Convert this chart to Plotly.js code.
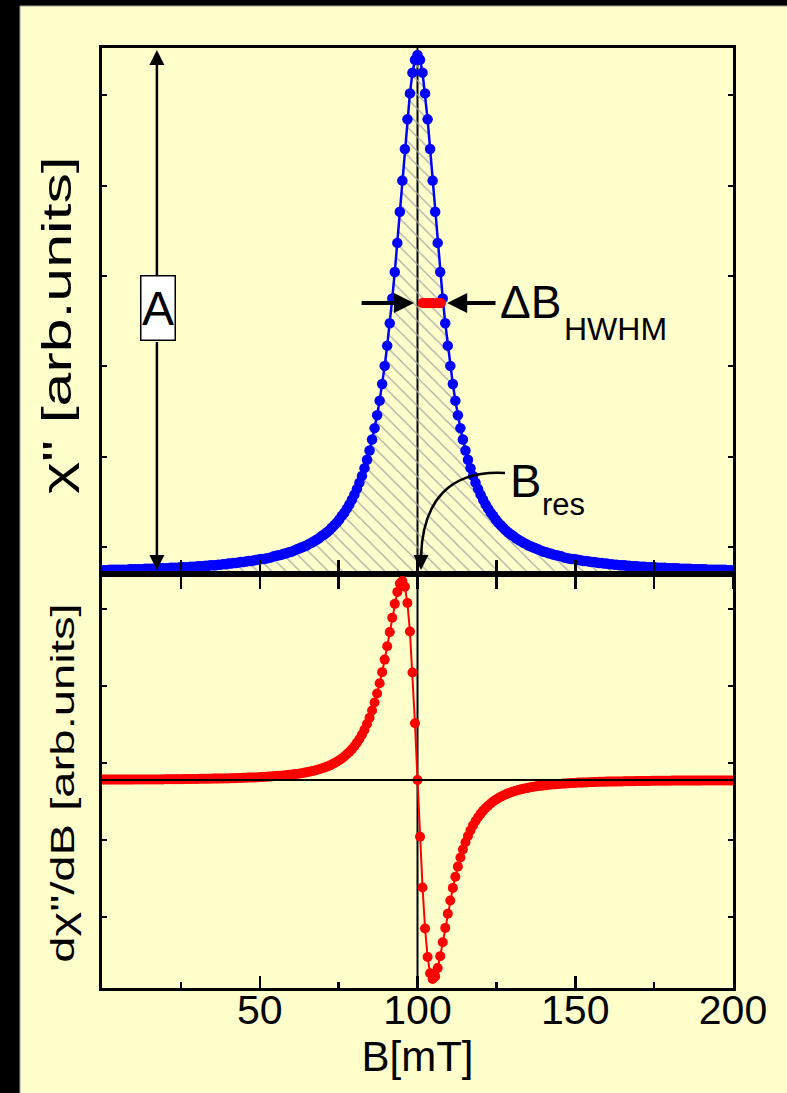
<!DOCTYPE html>
<html>
<head>
<meta charset="utf-8">
<script src="https://cdn.plot.ly/plotly-3.0.1.min.js"></script>
<style>html,body{margin:0;padding:0;background:#000;}#plot{width:787px;height:1093px;}</style>
</head>
<body>
<div id="plot"></div>
<script>
// Magnetic field B [mT]
const B = [
0,0.8,1.6,2.4,3.2,4,4.8,5.6,6.4,7.2,
8,8.8,9.6,10.4,11.2,12,12.8,13.6,14.4,15.2,
16,16.8,17.6,18.4,19.2,20,20.8,21.6,22.4,23.2,
24,24.8,25.6,26.4,27.2,28,28.8,29.6,30.4,31.2,
32,32.8,33.6,34.4,35.2,36,36.8,37.6,38.4,39.2,
40,40.8,41.6,42.4,43.2,44,44.8,45.6,46.4,47.2,
48,48.8,49.6,50.4,51.2,52,52.8,53.6,54.4,55.2,
56,56.8,57.6,58.4,59.2,60,60.8,61.6,62.4,63.2,
64,64.8,65.6,66.4,67.2,68,68.8,69.6,70.4,71.2,
72,72.8,73.6,74.4,75.2,76,76.8,77.6,78.4,79.2,
80,80.8,81.6,82.4,83.2,84,84.8,85.6,86.4,87.2,
88,88.8,89.6,90.4,91.2,92,92.8,93.6,94.4,95.2,
96,96.8,97.6,98.4,99.2,100,100.8,101.6,102.4,103.2,
104,104.8,105.6,106.4,107.2,108,108.8,109.6,110.4,111.2,
112,112.8,113.6,114.4,115.2,116,116.8,117.6,118.4,119.2,
120,120.8,121.6,122.4,123.2,124,124.8,125.6,126.4,127.2,
128,128.8,129.6,130.4,131.2,132,132.8,133.6,134.4,135.2,
136,136.8,137.6,138.4,139.2,140,140.8,141.6,142.4,143.2,
144,144.8,145.6,146.4,147.2,148,148.8,149.6,150.4,151.2,
152,152.8,153.6,154.4,155.2,156,156.8,157.6,158.4,159.2,
160,160.8,161.6,162.4,163.2,164,164.8,165.6,166.4,167.2,
168,168.8,169.6,170.4,171.2,172,172.8,173.6,174.4,175.2,
176,176.8,177.6,178.4,179.2,180,180.8,181.6,182.4,183.2,
184,184.8,185.6,186.4,187.2,188,188.8,189.6,190.4,191.2,
192,192.8,193.6,194.4,195.2,196,196.8,197.6,198.4,199.2,
200];

// Absorption chi'' (arb. units)
const chi = [
0.007,0.007,0.007,0.008,0.008,0.008,0.008,0.008,0.008,0.008,
0.008,0.009,0.009,0.009,0.009,0.009,0.009,0.010,0.010,0.010,
0.010,0.010,0.011,0.011,0.011,0.011,0.011,0.012,0.012,0.012,
0.012,0.013,0.013,0.013,0.013,0.014,0.014,0.014,0.015,0.015,
0.015,0.016,0.016,0.017,0.017,0.017,0.018,0.018,0.019,0.019,
0.020,0.020,0.021,0.021,0.022,0.023,0.023,0.024,0.025,0.025,
0.026,0.027,0.028,0.029,0.029,0.030,0.031,0.032,0.034,0.035,
0.036,0.037,0.039,0.040,0.042,0.043,0.045,0.047,0.049,0.051,
0.053,0.055,0.058,0.060,0.063,0.066,0.069,0.073,0.076,0.080,
0.084,0.089,0.094,0.099,0.105,0.112,0.118,0.126,0.134,0.143,
0.153,0.164,0.176,0.189,0.204,0.220,0.238,0.259,0.281,0.306,
0.334,0.366,0.401,0.440,0.483,0.531,0.582,0.638,0.698,0.758,
0.819,0.876,0.926,0.966,0.991,
1.000,
0.991,0.966,0.926,0.876,0.819,
0.758,0.698,0.638,0.582,0.531,0.483,0.440,0.401,0.366,0.334,
0.306,0.281,0.259,0.238,0.220,0.204,0.189,0.176,0.164,0.153,
0.143,0.134,0.126,0.118,0.112,0.105,0.099,0.094,0.089,0.084,
0.080,0.076,0.073,0.069,0.066,0.063,0.060,0.058,0.055,0.053,
0.051,0.049,0.047,0.045,0.043,0.042,0.040,0.039,0.037,0.036,
0.035,0.034,0.032,0.031,0.030,0.029,0.029,0.028,0.027,0.026,
0.025,0.025,0.024,0.023,0.023,0.022,0.021,0.021,0.020,0.020,
0.019,0.019,0.018,0.018,0.017,0.017,0.017,0.016,0.016,0.015,
0.015,0.015,0.014,0.014,0.014,0.013,0.013,0.013,0.013,0.012,
0.012,0.012,0.012,0.011,0.011,0.011,0.011,0.011,0.010,0.010,
0.010,0.010,0.010,0.009,0.009,0.009,0.009,0.009,0.009,0.008,
0.008,0.008,0.008,0.008,0.008,0.008,0.008,0.007,0.007,0.007];

// Derivative d chi''/dB (arb. units)
const dchi = [
0.002,0.002,0.002,0.002,0.002,0.002,0.002,0.002,0.002,0.002,
0.002,0.002,0.002,0.003,0.003,0.003,0.003,0.003,0.003,0.003,
0.003,0.003,0.003,0.003,0.003,0.004,0.004,0.004,0.004,0.004,
0.004,0.004,0.004,0.005,0.005,0.005,0.005,0.005,0.005,0.006,
0.006,0.006,0.006,0.006,0.007,0.007,0.007,0.008,0.008,0.008,
0.008,0.009,0.009,0.009,0.010,0.010,0.011,0.011,0.012,0.012,
0.013,0.013,0.014,0.015,0.015,0.016,0.017,0.018,0.019,0.020,
0.021,0.022,0.023,0.024,0.026,0.027,0.029,0.030,0.032,0.034,
0.036,0.039,0.041,0.044,0.047,0.050,0.054,0.058,0.062,0.067,
0.072,0.078,0.084,0.092,0.099,0.108,0.118,0.129,0.141,0.154,
0.170,0.187,0.206,0.228,0.253,0.281,0.313,0.349,0.389,0.435,
0.486,0.542,0.605,0.672,0.743,0.815,0.885,0.945,0.987,1.000,
0.971,0.889,0.746,0.540,0.285,
0,
-0.285,-0.540,-0.746,-0.889,-0.971,
-1.000,-0.987,-0.945,-0.885,-0.815,-0.743,-0.672,-0.605,-0.542,-0.486,
-0.435,-0.389,-0.349,-0.313,-0.281,-0.253,-0.228,-0.206,-0.187,-0.170,
-0.154,-0.141,-0.129,-0.118,-0.108,-0.099,-0.092,-0.084,-0.078,-0.072,
-0.067,-0.062,-0.058,-0.054,-0.050,-0.047,-0.044,-0.041,-0.039,-0.036,
-0.034,-0.032,-0.030,-0.029,-0.027,-0.026,-0.024,-0.023,-0.022,-0.021,
-0.020,-0.019,-0.018,-0.017,-0.016,-0.015,-0.015,-0.014,-0.013,-0.013,
-0.012,-0.012,-0.011,-0.011,-0.010,-0.010,-0.009,-0.009,-0.009,-0.008,
-0.008,-0.008,-0.008,-0.007,-0.007,-0.007,-0.006,-0.006,-0.006,-0.006,
-0.006,-0.005,-0.005,-0.005,-0.005,-0.005,-0.005,-0.004,-0.004,-0.004,
-0.004,-0.004,-0.004,-0.004,-0.004,-0.003,-0.003,-0.003,-0.003,-0.003,
-0.003,-0.003,-0.003,-0.003,-0.003,-0.003,-0.003,-0.002,-0.002,-0.002,
-0.002,-0.002,-0.002,-0.002,-0.002,-0.002,-0.002,-0.002,-0.002,-0.002];

// Tick labels / annotations
const xTickVals = [50, 100, 150, 200];
const xTickLabels = ['50', '100', '150', '200'];
const Bres = 100;
const hwhmBar = [101.6, 107.4];
const hwhmLevel = [0.522, 0.522];

const FONT = 'Liberation Sans, Arial, Helvetica, sans-serif';
const allQuarter = [25, 50, 75, 100, 125, 150, 175, 200];

const data = [
  {x: B, y: chi, xaxis: 'x', yaxis: 'y', type: 'scatter', mode: 'lines+markers',
   line: {color: '#0000FF', width: 2.5}, marker: {color: '#0000FF', size: 10.5},
   fill: 'tozeroy', fillcolor: 'rgba(0,0,0,0)',
   fillpattern: {shape: '\\', fgcolor: '#a8a8a8', bgcolor: 'rgba(0,0,0,0)', size: 10, solidity: 0.12},
   hoverinfo: 'skip'},
  {x: B, y: dchi, xaxis: 'x2', yaxis: 'y2', type: 'scatter', mode: 'lines+markers',
   line: {color: '#FF0000', width: 2}, marker: {color: '#FF0000', size: 10}, hoverinfo: 'skip'},
  {x: hwhmBar, y: hwhmLevel, xaxis: 'x', yaxis: 'y', type: 'scatter', mode: 'lines+markers',
   line: {color: '#FF0000', width: 10}, marker: {color: '#FF0000', size: 10}, hoverinfo: 'skip'},
  {x: [], y: [], xaxis: 'x3', yaxis: 'y', type: 'scatter', mode: 'markers', hoverinfo: 'skip'}
];

const DOM = 414 / 940;
const axLine = {showline: true, linecolor: 'black', linewidth: 3, showgrid: false, zeroline: false};

const layout = {
  width: 787, height: 1093,
  margin: {l: 102, r: 54, t: 48, b: 105, pad: 0},
  paper_bgcolor: '#000000', plot_bgcolor: 'rgba(0,0,0,0)',
  showlegend: false,
  font: {family: FONT, color: 'black'},
  xaxis: Object.assign({}, axLine, {domain: [0, 1], anchor: 'y', range: [0, 200],
    showticklabels: false, ticks: 'inside', tickmode: 'array', tickvals: allQuarter,
    ticklen: 14, tickwidth: 2.5, tickcolor: 'black', mirror: true}),
  xaxis3: {overlaying: 'x', anchor: 'y', range: [0, 200], showticklabels: false,
    ticks: 'outside', tickmode: 'array', tickvals: allQuarter, ticklen: 14, tickwidth: 2.5,
    tickcolor: 'black', showline: false, showgrid: false, zeroline: false},
  yaxis: Object.assign({}, axLine, {domain: [DOM, 1], anchor: 'x', range: [0, 1.0135],
    showticklabels: false, ticks: 'inside', tick0: 0.052, dtick: 0.174, ticklen: 5, tickwidth: 2,
    tickcolor: 'black', mirror: 'ticks',
    title: {text: 'χ" [arb.units]', font: {size: 40, family: FONT, color: 'black'}, standoff: 22}}),
  xaxis2: Object.assign({}, axLine, {domain: [0, 1], anchor: 'y2', range: [0, 200],
    tickmode: 'array', tickvals: xTickVals, ticktext: xTickLabels, ticks: 'inside',
    ticklen: 12, tickwidth: 2.5, tickcolor: 'black', mirror: true,
    minor: {tick0: 0, dtick: 25, ticks: 'inside', ticklen: 6, tickwidth: 2.5, tickcolor: 'black', showgrid: false},
    tickfont: {size: 41, family: FONT, color: 'black'}, ticklabelstandoff: -16,
    title: {text: 'B[mT]', font: {size: 42, family: FONT, color: 'black'}, standoff: 8}}),
  yaxis2: Object.assign({}, axLine, {domain: [0, DOM], anchor: 'x2', range: [-1.045, 1.035],
    showticklabels: false, ticks: 'inside', tick0: 0.085, dtick: 0.387, ticklen: 5, tickwidth: 2,
    tickcolor: 'black', mirror: 'ticks',
    title: {text: 'dχ"/dB [arb.units]', font: {size: 34, family: FONT, color: 'black'}, standoff: 22}}),
  shapes: [
    {type: 'rect', xref: 'paper', yref: 'paper', x0: -0.1300, x1: 1.10, y0: -0.13, y1: 1.0447,
     fillcolor: '#FFFFCC', line: {color: '#999999', width: 1}, layer: 'below'},
    {type: 'line', xref: 'x', yref: 'paper', x0: Bres, x1: Bres, y0: 0, y1: 1,
     line: {color: 'black', width: 2}, layer: 'below'},
    {type: 'line', xref: 'x2', yref: 'y2', x0: 0, x1: 200, y0: 0, y1: 0,
     line: {color: 'black', width: 2}, layer: 'above'},
    {type: 'path', xref: 'x', yref: 'y',
     path: 'M 127.73,0.1946 C 110.30,0.2004 101.74,0.1426 101.11,0.0347',
     line: {color: 'black', width: 2.5}, layer: 'above'}
  ],
  annotations: [
    // A double arrow
    {xref: 'x', yref: 'y', axref: 'x', ayref: 'y', x: 17.4, y: 1.0096, ax: 17.4, ay: 0.55, text: '',
     showarrow: true, arrowhead: 2, arrowsize: 1.2, arrowwidth: 2.5, arrowcolor: 'black'},
    {xref: 'x', yref: 'y', axref: 'x', ayref: 'y', x: 17.4, y: 0.0077, ax: 17.4, ay: 0.45, text: '',
     showarrow: true, arrowhead: 2, arrowsize: 1.2, arrowwidth: 2.5, arrowcolor: 'black'},
    {xref: 'x', yref: 'y', x: 17.6, y: 0.5116, text: 'A', showarrow: false,
     font: {size: 48, family: FONT, color: 'black'}, bgcolor: 'white', bordercolor: 'black',
     borderwidth: 1.5, borderpad: 0, width: 33, height: 63, xanchor: 'center', yanchor: 'middle'},
    // HWHM arrows
    {xref: 'x', yref: 'y', axref: 'x', ayref: 'y', x: 98.9, y: 0.522, ax: 81.8, ay: 0.522, text: '',
     showarrow: true, arrowhead: 2, arrowsize: 1, arrowwidth: 4, arrowcolor: 'black'},
    {xref: 'x', yref: 'y', axref: 'x', ayref: 'y', x: 109.4, y: 0.522, ax: 125.2, ay: 0.522, text: '',
     showarrow: true, arrowhead: 2, arrowsize: 1, arrowwidth: 4, arrowcolor: 'black'},
    {xref: 'x', yref: 'y', x: 125.6, y: 0.524, text: 'ΔB', showarrow: false, xanchor: 'left', yanchor: 'middle',
     font: {size: 46, family: FONT, color: 'black'}},
    {xref: 'x', yref: 'y', x: 145.8, y: 0.473, text: 'HWHM', showarrow: false, xanchor: 'left', yanchor: 'middle',
     font: {size: 32, family: FONT, color: 'black'}},
    // B_res
    {xref: 'x', yref: 'y', x: 128.7, y: 0.181, text: 'B', showarrow: false, xanchor: 'left', yanchor: 'middle',
     font: {size: 47, family: FONT, color: 'black'}},
    {xref: 'x', yref: 'y', x: 138.8, y: 0.133, text: 'res', showarrow: false, xanchor: 'left', yanchor: 'middle',
     font: {size: 31, family: FONT, color: 'black'}},
    {xref: 'x', yref: 'y', axref: 'x', ayref: 'y', x: 101.11, y: 0.0077, ax: 101.11, ay: 0.045, text: '',
     showarrow: true, arrowhead: 2, arrowsize: 1.2, arrowwidth: 2.5, arrowcolor: 'black'}
  ]
};

Plotly.newPlot('plot', data, layout, {staticPlot: true, displayModeBar: false}).then(function (gd) {
  function stretch(sel, s, dx, dy) {
    gd.querySelectorAll(sel).forEach(function (t) {
      const x = parseFloat(t.getAttribute('x')) || 0;
      const y = parseFloat(t.getAttribute('y')) || 0;
      const tr = t.getAttribute('transform') || '';
      t.setAttribute('transform', 'translate(' + dx + ',' + dy + ') ' + tr +
        ' translate(' + x + ',' + y + ') scale(' + s + ',1) translate(' + (-x) + ',' + (-y) + ')');
    });
  }
  stretch('.g-ytitle text', 1.52, 7, 14);
  stretch('.g-y2title text', 1.39, 7, 2);
});
</script>
</body>
</html>
